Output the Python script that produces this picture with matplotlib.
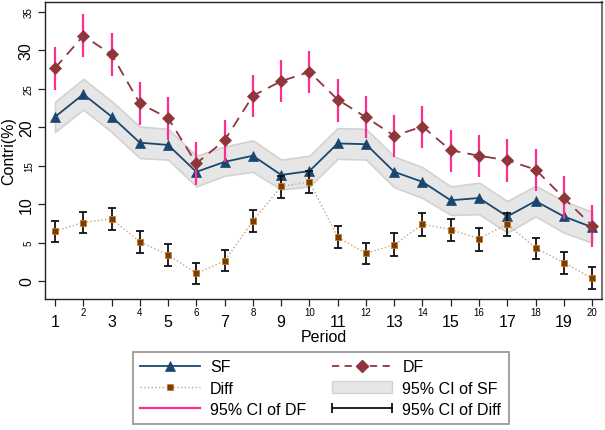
import matplotlib
matplotlib.use("Agg")
import matplotlib.pyplot as plt
from matplotlib.lines import Line2D
from matplotlib.patches import Patch
from matplotlib.legend_handler import HandlerLine2D
import numpy as np

plt.rcParams['font.family'] = ['Liberation Sans', 'DejaVu Sans']

period = list(range(1, 21))
sf = [21.35, 24.3, 21.4, 18.0, 17.7, 14.2, 15.5, 16.3, 13.8, 14.3,
      17.9, 17.8, 14.2, 12.9, 10.5, 10.8, 8.4, 10.4, 8.4, 7.0]
sf_lo = [19.4, 22.3, 19.4, 16.0, 15.8, 12.3, 13.7, 14.2, 11.9, 12.3,
         15.9, 15.8, 12.2, 10.8, 8.6, 8.7, 6.3, 8.4, 6.3, 5.0]
sf_hi = [23.3, 26.3, 23.4, 20.1, 19.8, 16.3, 17.5, 18.3, 15.8, 16.3,
         19.9, 19.8, 16.2, 14.8, 12.3, 12.8, 10.4, 12.4, 10.4, 9.0]
df = [27.7, 31.9, 29.5, 23.1, 21.2, 15.3, 18.3, 24.1, 26.0, 27.2,
      23.6, 21.3, 18.9, 20.1, 17.0, 16.3, 15.7, 14.5, 10.8, 7.2]
df_lo = [24.9, 29.1, 26.7, 20.3, 18.3, 12.5, 15.5, 21.3, 23.3, 24.4,
         20.7, 18.6, 16.1, 17.3, 14.2, 13.5, 12.9, 11.7, 8.1, 4.4]
df_hi = [30.4, 34.7, 32.3, 25.9, 23.9, 18.1, 21.0, 26.8, 28.8, 29.9,
         26.3, 24.1, 21.6, 22.8, 19.7, 19.0, 18.5, 17.2, 13.6, 9.9]
diff = [6.5, 7.6, 8.1, 5.1, 3.4, 1.0, 2.6, 7.8, 12.3, 12.9,
        5.7, 3.6, 4.7, 7.4, 6.7, 5.5, 7.4, 4.3, 2.4, 0.35]
diff_lo = [5.03, 6.2, 6.6, 3.6, 2.0, -0.4, 1.3, 6.4, 10.8, 11.5,
           4.3, 2.2, 3.3, 5.9, 5.2, 3.9, 5.9, 2.8, 0.9, -1.1]
diff_hi = [7.85, 9.0, 9.5, 6.5, 4.8, 2.4, 4.1, 9.2, 13.7, 14.3,
           7.1, 5.0, 6.2, 8.8, 8.1, 6.9, 8.8, 5.6, 3.8, 1.8]

c_sf = '#1a476f'
c_df = '#90353b'
c_diff_m = '#7a3d00'
c_diff_e = '#c87a2a'
c_diff_l = '#c8a27a'
c_ci_df = '#ff2d8f'
c_band = '#e6e6e6'
c_band_e = '#d2d2d2'

fig = plt.figure(figsize=(6.05, 4.31), dpi=100)
ax = fig.add_axes([45/605, 1-300/431, (602-45)/605, (300-3)/431])

x = np.array(period)
ax.fill_between(x, sf_lo, sf_hi, facecolor=c_band, edgecolor=c_band_e, lw=1.2, zorder=1)
ax.plot(x, sf, color=c_sf, lw=1.3, marker='^', ms=7, mfc=c_sf, mec=c_sf, mew=0.5, zorder=3)
ax.plot(x, diff, color=c_diff_l, lw=1.0, ls=':', zorder=2)
diff_arr = np.array(diff)
ax.errorbar(x, diff, yerr=[diff_arr - np.array(diff_lo), np.array(diff_hi) - diff_arr],
            fmt='none', ecolor='#111111', elinewidth=1.3, capsize=2.6, capthick=1.3, zorder=4)
ax.plot(x, diff, ls='none', marker='s', ms=4.8, mfc=c_diff_m, mec=c_diff_e, mew=0.6, zorder=5)
ax.plot(x, df, color=c_df, lw=1.3, ls=(0, (6, 4)), zorder=3)
ax.vlines(x, df_lo, df_hi, color=c_ci_df, lw=1.6, zorder=4)
ax.plot(x, df, ls='none', marker='D', ms=5.8, mfc=c_df, mec=c_df, mew=0.5, zorder=5)

ax.set_xlim(0.646, 20.35)
ax.set_ylim(-2.34, 36.3)

ax.set_yticks([0, 10, 20, 30])
ax.set_yticks([5, 15, 25, 35], minor=True)
ax.set_yticklabels(['0', '10', '20', '30'], fontsize=11.5, rotation=90, va='center')
ax.set_yticklabels(['5', '15', '25', '35'], minor=True, fontsize=7, rotation=90, va='center')
ax.set_xticks(period[0::2])
ax.set_xticks(period[1::2], minor=True)
ax.set_xticklabels([str(p) for p in period[0::2]], fontsize=11.5)
ax.set_xticklabels([str(p) for p in period[1::2]], minor=True, fontsize=7)
for which in ('major', 'minor'):
    ax.tick_params(axis='both', which=which, direction='out', length=5, width=0.9,
                   color='#222222', pad=3)
ax.tick_params(axis='x', which='major', pad=6)
ax.tick_params(axis='x', which='minor', pad=0.5)

ax.set_xlabel('Period', fontsize=11.5, labelpad=0)
ax.set_ylabel('Contri(%)', fontsize=11.5, labelpad=2)
for s in ax.spines.values():
    s.set_color('#222222')
    s.set_linewidth(1.0)
ax.spines['right'].set_color('#777777')
ax.spines['right'].set_linewidth(1.5)

h_sf = Line2D([], [], color=c_sf, lw=1.3, marker='^', ms=7, mfc=c_sf, mec=c_sf, mew=0.5)
h_df = Line2D([], [], color=c_df, lw=1.3, ls=(0, (4, 3)), marker='D', ms=5.8, mfc=c_df, mec=c_df)
h_diff = Line2D([], [], color=c_diff_l, lw=1.0, ls=':', marker='s', ms=4.8, mfc=c_diff_m, mec=c_diff_e, mew=0.6)
h_cisf = Patch(facecolor=c_band, edgecolor=c_band_e, lw=1.0)
h_cidf = Line2D([], [], color=c_ci_df, lw=1.6)
h_cidiff = Line2D([], [], color='#111111', lw=1.3, marker='|', ms=7, mew=1.3)

handles = [h_sf, h_diff, h_cidf, h_df, h_cisf, h_cidiff]
labels = ['SF', 'Diff', '95% CI of DF', 'DF', '95% CI of SF', '95% CI of Diff']
fs = 11.5
fs_px = fs * 100 / 72
leg = fig.legend(handles, labels, ncol=2, loc='upper left',
                 bbox_to_anchor=(133/605, 1-353/431),
                 fontsize=fs, frameon=True, fancybox=False,
                 edgecolor='#777777', handlelength=60/fs_px, handletextpad=10/fs_px,
                 columnspacing=26/fs_px, labelspacing=0.4, borderpad=0.45,
                 borderaxespad=0, numpoints=1,
                 handler_map={h_cidiff: HandlerLine2D(numpoints=2, marker_pad=0.0)})
leg.get_frame().set_linewidth(1.2)

fig.savefig('out.png', dpi=100)
